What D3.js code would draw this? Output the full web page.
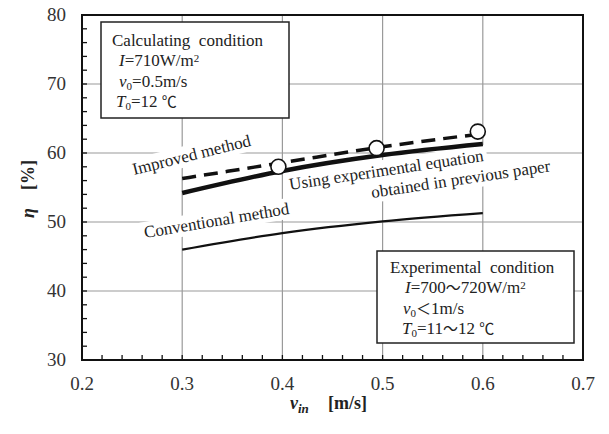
<!DOCTYPE html>
<html>
<head>
<meta charset="utf-8">
<script src="https://cdn.jsdelivr.net/npm/d3@7"></script>
<style>
  body { margin: 0; background: #fff; }
  svg text { font-family: "Liberation Serif", "Times New Roman", serif; }
</style>
</head>
<body>
<div id="chart"></div>
<script>
// velocity points where the curves were calculated
const vin = [0.3, 0.4, 0.5, 0.6];
const improved = [56.3, 58.6, 60.9, 62.8];
const usingEq = [54.2, 57.4, 59.7, 61.3];
const conventional = [46.0, 48.4, 50.1, 51.3];
// experimental points (open circles)
const expV = [0.396, 0.494, 0.595];
const expEta = [58.0, 60.7, 63.1];

const xTicks = [0.2, 0.3, 0.4, 0.5, 0.6, 0.7];
const yTicks = [30, 40, 50, 60, 70, 80];

const width = 609, height = 434;
const margin = {left: 82, top: 15, right: 26, bottom: 74};
const serif = "Liberation Serif";
const cjk = "Noto Sans CJK JP";

const svg = d3.select("#chart").append("svg")
    .attr("width", width)
    .attr("height", height);

const x = d3.scaleLinear().domain([0.2, 0.7]).range([margin.left, width - margin.right]);
const y = d3.scaleLinear().domain([30, 80]).range([height - margin.bottom, margin.top]);

// grid
svg.append("g").selectAll("line")
    .data(xTicks.slice(1, -1))
    .join("line")
    .attr("x1", d => x(d)).attr("x2", d => x(d))
    .attr("y1", y(30)).attr("y2", y(80))
    .attr("stroke", "#9a9a9a").attr("stroke-width", 1.2);
svg.append("g").selectAll("line")
    .data(yTicks.slice(1, -1))
    .join("line")
    .attr("x1", x(0.2)).attr("x2", x(0.7))
    .attr("y1", d => y(d)).attr("y2", d => y(d))
    .attr("stroke", "#9a9a9a").attr("stroke-width", 1.2);

// condition boxes
const box = (bx, by, bw, bh, lines) => {
    svg.append("rect")
        .attr("x", bx).attr("y", by).attr("width", bw).attr("height", bh)
        .attr("fill", "#fff").attr("stroke", "#222").attr("stroke-width", 1.5);
    lines.forEach(l => {
        const t = svg.append("text")
            .attr("x", l.x).attr("y", l.y)
            .attr("font-family", serif)
            .style("font-size", "17px").attr("fill", "#222");
        l.parts.forEach(p => {
            const s = t.append("tspan").text(p.t);
            if (p.i) s.style("font-style", "italic");
            if (p.cjk) s.attr("font-family", cjk).style("font-size", "15px");
            if (p.sub) s.attr("baseline-shift", "-30%").style("font-size", "11px");
            if (p.sup) s.attr("baseline-shift", "40%").style("font-size", "11px");
        });
    });
};

box(101, 22, 188, 96, [
    {x: 112, y: 46, parts: [{t: "Calculating\u00a0\u00a0condition"}]},
    {x: 119, y: 66, parts: [{t: "I", i: true}, {t: "=710W/m"}, {t: "2", sup: true}]},
    {x: 119, y: 87, parts: [{t: "v", i: true}, {t: "0", sub: true}, {t: "=0.5m/s"}]},
    {x: 116, y: 107, parts: [{t: "T", i: true}, {t: "0", sub: true}, {t: "=12 "}, {t: "\u2103", cjk: true}]}
]);

box(377, 251, 197, 92, [
    {x: 390, y: 273, parts: [{t: "Experimental\u00a0\u00a0condition"}]},
    {x: 405, y: 293, parts: [{t: "I", i: true}, {t: "=700"}, {t: "\u301c", cjk: true}, {t: "720W/m"}, {t: "2", sup: true}]},
    {x: 403, y: 314, parts: [{t: "v", i: true}, {t: "0", sub: true}, {t: "\uff1c", cjk: true}, {t: "1m/s"}]},
    {x: 402, y: 334, parts: [{t: "T", i: true}, {t: "0", sub: true}, {t: "=11"}, {t: "\u301c", cjk: true}, {t: "12 "}, {t: "\u2103", cjk: true}]}
]);

// rotated curve labels with white backing
const label = (lx, ly, angle, rows) => {
    const g = svg.append("g").attr("transform", `translate(${lx},${ly}) rotate(${angle})`);
    rows.forEach(r => {
        const t = g.append("text").attr("x", r.dx).attr("y", r.dy)
            .attr("font-family", serif)
            .style("font-size", "17px").attr("fill", "#222").text(r.t);
        const b = t.node().getBBox();
        g.insert("rect", "text")
            .attr("x", b.x - 3).attr("y", b.y - 1)
            .attr("width", b.width + 6).attr("height", b.height + 2)
            .attr("fill", "#fff");
    });
};
label(134, 175, -14, [{t: "Improved method", dx: 0, dy: 0}]);
label(145, 238, -9.5, [{t: "Conventional method", dx: 0, dy: 0}]);
label(290, 190, -8.5, [
    {t: "Using experimental equation", dx: 0, dy: 0},
    {t: "obtained in previous paper", dx: 80, dy: 20}
]);

// curves
const line = d3.line()
    .x((d, i) => x(vin[i]))
    .y(d => y(d))
    .curve(d3.curveMonotoneX);

svg.append("path").datum(conventional)
    .attr("d", line).attr("fill", "none")
    .attr("stroke", "#111").attr("stroke-width", 2.2);
svg.append("path").datum(usingEq)
    .attr("d", line).attr("fill", "none")
    .attr("stroke", "#111").attr("stroke-width", 4.5);
svg.append("path").datum(improved)
    .attr("d", line).attr("fill", "none")
    .attr("stroke", "#111").attr("stroke-width", 3.5)
    .attr("stroke-dasharray", "14,8");

svg.append("g").selectAll("circle")
    .data(expV)
    .join("circle")
    .attr("cx", d => x(d))
    .attr("cy", (d, i) => y(expEta[i]))
    .attr("r", 7.5)
    .attr("fill", "#fff").attr("stroke", "#111").attr("stroke-width", 1.6);

// inward minor ticks on left and bottom
const xMinor = d3.range(0, 26).map(i => 0.2 + i * 0.02);
const yMinor = d3.range(0, 26).map(i => 30 + i * 2);
svg.append("g").selectAll("line")
    .data(xMinor)
    .join("line")
    .attr("x1", d => x(d)).attr("x2", d => x(d))
    .attr("y1", y(30)).attr("y2", y(30) - 5)
    .attr("stroke", "#111").attr("stroke-width", 1.3);
svg.append("g").selectAll("line")
    .data(yMinor)
    .join("line")
    .attr("x1", x(0.2)).attr("x2", x(0.2) + 5)
    .attr("y1", d => y(d)).attr("y2", d => y(d))
    .attr("stroke", "#111").attr("stroke-width", 1.3);

// frame
svg.append("rect")
    .attr("x", x(0.2)).attr("y", y(80))
    .attr("width", x(0.7) - x(0.2)).attr("height", y(30) - y(80))
    .attr("fill", "none").attr("stroke", "#111").attr("stroke-width", 2);

// tick labels
svg.append("g").selectAll("text")
    .data(xTicks)
    .join("text")
    .attr("x", d => x(d)).attr("y", y(30) + 30)
    .attr("text-anchor", "middle")
    .attr("font-family", serif)
    .style("font-size", "19px").attr("fill", "#333")
    .text(d => d.toFixed(1));
svg.append("g").selectAll("text")
    .data(yTicks)
    .join("text")
    .attr("x", x(0.2) - 16).attr("y", d => y(d) + 6)
    .attr("text-anchor", "end")
    .attr("font-family", serif)
    .style("font-size", "19px").attr("fill", "#333")
    .text(d => d);

// axis titles
const xt = svg.append("text")
    .attr("x", 290).attr("y", 409)
    .attr("font-family", serif)
    .style("font-size", "18px").style("font-weight", "bold").attr("fill", "#222");
xt.append("tspan").text("v").style("font-style", "italic");
xt.append("tspan").text("in").style("font-style", "italic")
    .style("font-size", "13px").attr("baseline-shift", "-30%");
xt.append("tspan").attr("x", 328).attr("baseline-shift", "0").text("[m/s]");

const yt = svg.append("text")
    .attr("transform", "translate(34,189) rotate(-90)")
    .attr("text-anchor", "middle")
    .attr("font-family", serif)
    .style("font-size", "18px").style("font-weight", "bold").attr("fill", "#222");
yt.append("tspan").text("\u03b7").style("font-style", "italic");
yt.append("tspan").text("\u00a0\u00a0\u00a0\u00a0[%]");
</script>
</body>
</html>
